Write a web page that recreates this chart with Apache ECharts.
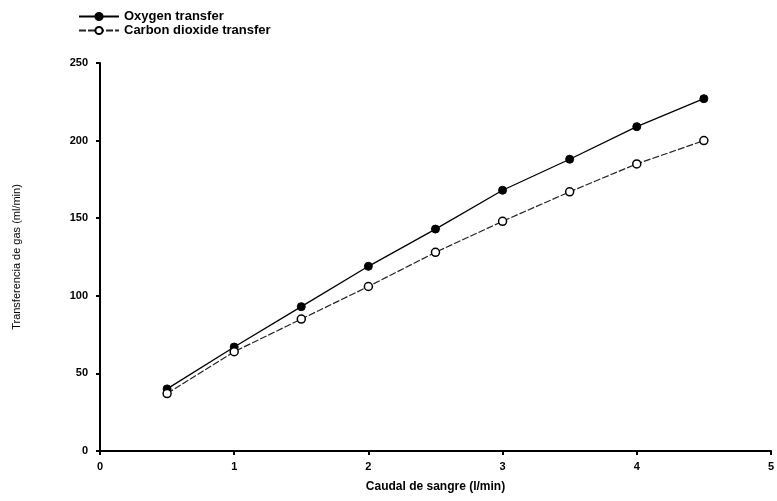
<!DOCTYPE html>
<html><head><meta charset="utf-8">
<script src="https://cdn.jsdelivr.net/npm/echarts@6/dist/echarts.min.js"></script>
<style>html,body{margin:0;padding:0;background:#fff}#c{width:777px;height:501px}</style>
</head><body><div id="c"></div>
<script>
const flow = [0.5, 1, 1.5, 2, 2.5, 3, 3.5, 4, 4.5];
const oxygen = [40, 67, 93, 119, 143, 168, 188, 209, 227];
const co2 = [37, 64, 85, 106, 128, 148, 167, 185, 200];
const seriesNames = ['Oxygen transfer', 'Carbon dioxide transfer'];
const xName = 'Caudal de sangre (l/min)';
const yName = 'Transferencia de gas (ml/min)';

const font = 'Liberation Sans, Arial, sans-serif';
const chart = echarts.init(document.getElementById('c'), null, {renderer: 'canvas'});
chart.setOption({
  animation: false,
  backgroundColor: '#fff',
  legend: {
    left: 73, top: 5, orient: 'vertical', itemGap: 1, itemWidth: 40, itemHeight: 9,
    textStyle: {fontFamily: font, fontSize: 13, fontWeight: 'bold', color: '#000'},
    data: seriesNames
  },
  grid: {left: 100, right: 3, top: 63, bottom: 50},
  xAxis: {
    type: 'value', min: 0, max: 5, interval: 1,
    name: xName, nameLocation: 'middle', nameGap: 30,
    nameTextStyle: {fontFamily: font, fontSize: 12, fontWeight: 'bold', color: '#000'},
    axisLine: {lineStyle: {color: '#000', width: 2}},
    axisTick: {length: 4, lineStyle: {color: '#000', width: 2}},
    axisLabel: {fontFamily: font, fontSize: 11, fontWeight: 'bold', color: '#000', margin: 10},
    splitLine: {show: false}
  },
  yAxis: {
    type: 'value', min: 0, max: 250, interval: 50,
    name: yName, nameLocation: 'middle', nameGap: 78, nameRotate: 90,
    nameTextStyle: {fontFamily: font, fontSize: 11, color: '#000'},
    axisLine: {show: true, lineStyle: {color: '#000', width: 2}},
    axisTick: {show: true, length: 4, lineStyle: {color: '#000', width: 2}},
    axisLabel: {fontFamily: font, fontSize: 11, fontWeight: 'bold', color: '#000', margin: 12},
    splitLine: {show: false}
  },
  series: [
    {
      name: seriesNames[0], type: 'line',
      data: flow.map((x, i) => [x, oxygen[i]]),
      symbol: 'circle', symbolSize: 8,
      itemStyle: {color: '#000', borderColor: '#000', borderWidth: 1},
      lineStyle: {color: '#000', width: 1.3}
    },
    {
      name: seriesNames[1], type: 'line',
      data: flow.map((x, i) => [x, co2[i]]),
      symbol: 'circle', symbolSize: 8,
      itemStyle: {color: '#fff', borderColor: '#000', borderWidth: 1.5},
      lineStyle: {color: '#222', width: 1.2, type: [7, 2]}
    }
  ]
});
</script></body></html>
